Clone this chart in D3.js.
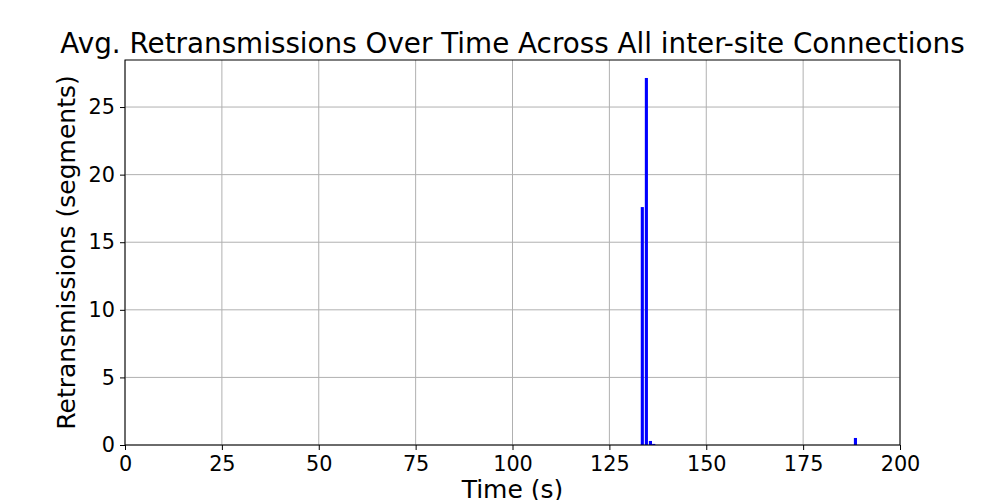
<!DOCTYPE html>
<html><head><meta charset="utf-8">
<script src="https://cdn.jsdelivr.net/npm/d3@7"></script>
<style>body{margin:0;background:#fff}svg{display:block;font-family:"DejaVu Sans",sans-serif}</style>
</head><body><svg id="c" width="1000" height="500"></svg>
<script>
const times = [133.5, 134.55, 135.6, 136.45, 188.5];
const retrans = [17.6, 27.15, 0.3, 0.08, 0.52];
const xTicks = [0, 25, 50, 75, 100, 125, 150, 175, 200];
const yTicks = [0, 5, 10, 15, 20, 25];
const barWidth = 0.8;

const svg = d3.select("#c");
const L = 125, R = 900, T = 60, B = 445;
const x = d3.scaleLinear().domain([0, 200]).range([L, R]);
const y = d3.scaleLinear().domain([0, 28.48]).range([B, T]);

// grid
svg.append("g").selectAll("line").data(xTicks).join("line")
  .attr("x1", d => x(d)).attr("x2", d => x(d)).attr("y1", T).attr("y2", B)
  .attr("stroke", "#b0b0b0").attr("stroke-width", 1);
svg.append("g").selectAll("line").data(yTicks).join("line")
  .attr("x1", L).attr("x2", R).attr("y1", d => y(d)).attr("y2", d => y(d))
  .attr("stroke", "#b0b0b0").attr("stroke-width", 1);

// bars
svg.append("g").selectAll("rect").data(times).join("rect")
  .attr("x", (d) => x(d - barWidth / 2))
  .attr("width", (d) => x(d + barWidth / 2) - x(d - barWidth / 2))
  .attr("y", (d, i) => y(retrans[i]))
  .attr("height", (d, i) => B - y(retrans[i]))
  .attr("fill", "#0000ff");

// axes
const xa = svg.append("g").attr("transform", `translate(0,${B})`)
  .call(d3.axisBottom(x).tickValues(xTicks).tickSize(5).tickPadding(6).tickFormat(d3.format("d")));
const ya = svg.append("g").attr("transform", `translate(${L},0)`)
  .call(d3.axisLeft(y).tickValues(yTicks).tickSize(5).tickPadding(5).tickFormat(d3.format("d")));
[xa, ya].forEach(a => {
  a.select(".domain").remove();
  a.selectAll("text").attr("font-size", 20.8).attr("fill", "#000").attr("font-family", "DejaVu Sans");
  a.selectAll("line").attr("stroke", "#000").attr("stroke-width", 1);
});

// frame
svg.append("rect").attr("x", L).attr("y", T).attr("width", R - L).attr("height", B - T)
  .attr("fill", "none").attr("stroke", "#000").attr("stroke-width", 1);

svg.append("text").attr("x", (L + R) / 2).attr("y", 53).attr("text-anchor", "middle")
  .attr("font-size", 27.8).text("Avg. Retransmissions Over Time Across All inter-site Connections");
svg.append("text").attr("x", (L + R) / 2).attr("y", 498).attr("text-anchor", "middle")
  .attr("font-size", 25).text("Time (s)");
svg.append("text").attr("transform", `translate(75,${(T + B) / 2}) rotate(-90)`).attr("text-anchor", "middle")
  .attr("font-size", 25).text("Retransmissions (segments)");
</script></body></html>
